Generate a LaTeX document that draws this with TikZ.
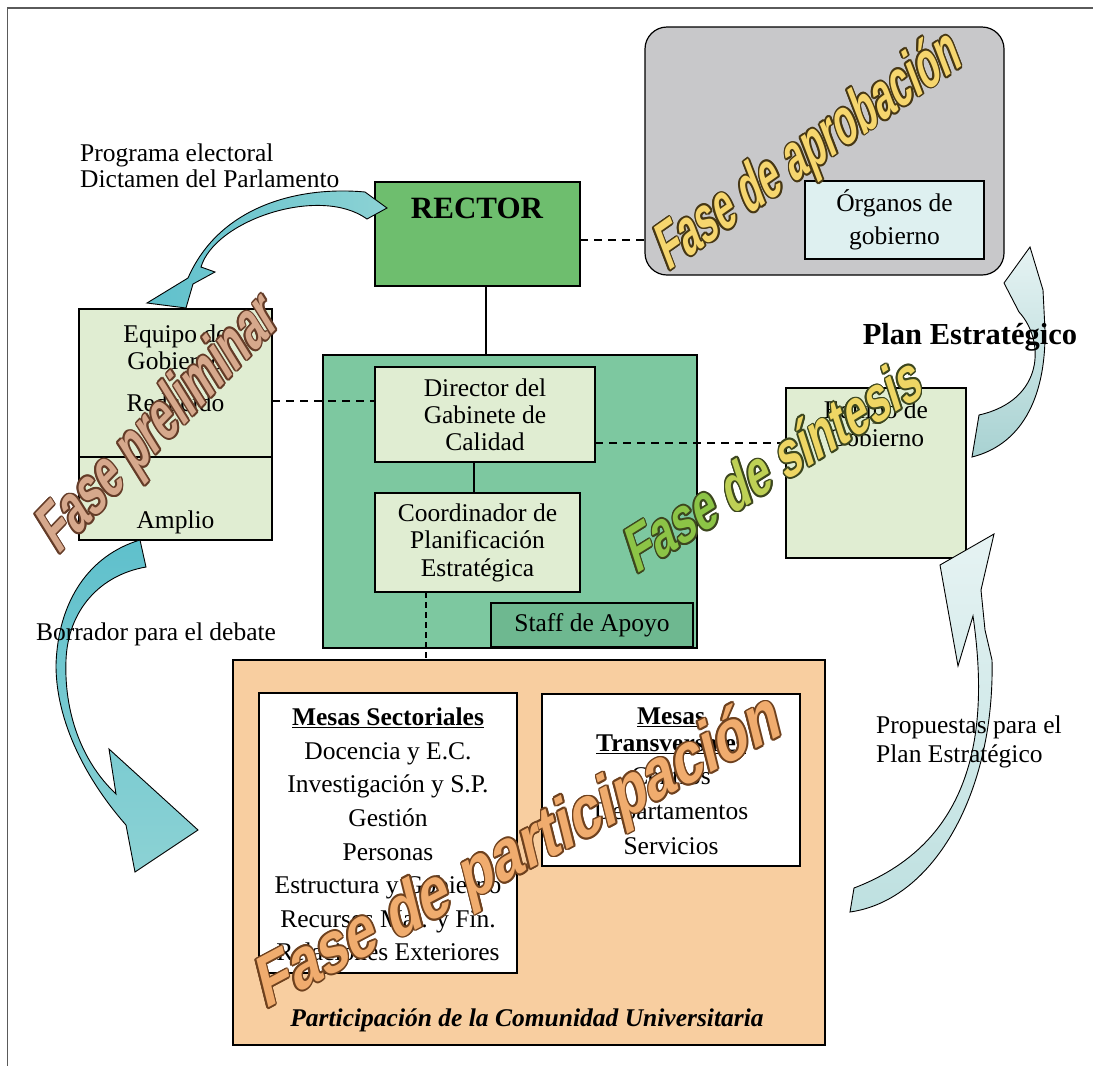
\documentclass[tikz,border=0pt]{standalone}
\usepackage{fontspec}
\setmainfont{Liberation Serif}
\newfontfamily\wafont{Liberation Sans}
\definecolor{cRector}{RGB}{110,190,110}
\definecolor{cGab}{RGB}{125,200,160}
\definecolor{cLight}{RGB}{224,237,210}
\definecolor{cStaff}{RGB}{110,184,144}
\definecolor{cGray}{RGB}{200,200,202}
\definecolor{cOrg}{RGB}{222,240,240}
\definecolor{cOrange}{RGB}{248,206,160}
\definecolor{cFrame}{RGB}{90,90,90}
\definecolor{waPreF}{RGB}{214,168,140}
\definecolor{waPreL}{RGB}{100,60,40}
\definecolor{waAprF}{RGB}{246,214,110}
\definecolor{waAprL}{RGB}{70,55,20}
\definecolor{waG1}{RGB}{140,196,70}
\definecolor{waG2}{RGB}{190,208,85}
\definecolor{waG3}{RGB}{238,214,100}
\definecolor{waSinL}{RGB}{60,70,30}
\definecolor{waParF}{RGB}{240,172,110}
\definecolor{waParL}{RGB}{110,65,30}
\definecolor{arA}{RGB}{95,192,204}
\definecolor{arB}{RGB}{140,210,212}
\definecolor{arC}{RGB}{230,243,243}
\definecolor{arD}{RGB}{190,224,224}
\definecolor{arE}{RGB}{168,210,210}
\newcommand\fs[1]{\fontsize{25.5}{#1}\selectfont}
\newif\ifwaout
\newcommand\wc[2]{\ifwaout#2\else\textcolor{#1}{#2}\fi}
\newcommand\wordart[9]{%
  \foreach \a [count=\k] in {0,30,...,330}{%
    \begin{scope}[shift={({#2+1.7*cos(\a)},{#3+1.7*sin(\a)})}]
      \node[wa, text=#8, rotate=#4, xslant=0.25, xscale=#5] (#1o\k) at (0,0) {\waouttrue\fontsize{#6}{#6}\selectfont #9};
    \end{scope}}%
  \begin{scope}[shift={(#2,#3)}]
    \node[wa, text=#7, rotate=#4, xslant=0.25, xscale=#5] (#1) at (0,0) {\fontsize{#6}{#6}\selectfont #9};
  \end{scope}}
\begin{document}
\begin{tikzpicture}[x=1pt,y=-1pt,
  box/.style={draw=black, line width=1.2pt, inner sep=0pt, outer sep=0pt},
  txt/.style={font=\fs{27}, align=center, inner sep=0pt},
  dline/.style={line width=1.1pt, dash pattern=on 8pt off 6pt},
  vdline/.style={line width=1.1pt, dash pattern=on 6pt off 4pt},
  sline/.style={line width=1.1pt},
  barrow/.style={draw=black, line width=0.9pt},
  wa/.style={inner sep=0pt, anchor=base west, font=\wafont\bfseries},
  frame/.style={draw=cFrame, line width=1.3pt}]
\useasboundingbox (0,0) rectangle (1093,1066);
\fill[white] (0,0) rectangle (1093,1066);
\draw[frame] (7.5,1066) -- (7.5,8) -- (1093,8);

% approval phase
\node[box, fill=cGray, rounded corners=22pt, minimum width=359pt, minimum height=248pt] (gray) at (824.5,151) {};
\node[box, fill=cOrg, minimum width=179pt, minimum height=78pt, align=center, font=\fs{33}] (organos) at (894.5,220) {Órganos de\\gobierno};

% rector
\node[box, fill=cRector, minimum width=205pt, minimum height=104pt] (rector) at (477.5,234) {};
\node[inner sep=0pt, font=\fontsize{31}{31}\selectfont\bfseries] (rectorlbl) at (477,208) {RECTOR};

% gabinete
\node[box, fill=cGab, minimum width=374pt, minimum height=293pt] (gab) at (510,501.5) {};
\node[box, fill=cLight, minimum width=220pt, minimum height=95pt, align=center, font=\fs{27}] (director) at (485,414.5) {Director del\\Gabinete de\\Calidad};
\node[box, fill=cLight, minimum width=205pt, minimum height=99pt, align=center, font=\fs{27.5}] (coord) at (477.5,542.5) {Coordinador de\\Planificación\\Estratégica};
\node[box, fill=cStaff, minimum width=202pt, minimum height=44pt, font=\fs{27}] (staff) at (592,625) {Staff de Apoyo};

% equipo de gobierno (left)
\node[box, fill=cLight, minimum width=193pt, minimum height=148pt] (eqtop) at (175.5,383) {};
\node[box, fill=cLight, minimum width=193pt, minimum height=83pt] (eqbot) at (175.5,498.5) {};
\node[txt] (eqtxt) at (175.5,347) {Equipo de\\Gobierno};
\node[txt] (reducido) at (175.5,403) {Reducido};
\node[txt] (amplio) at (175.5,522) {Amplio};

% equipo de gobierno (right)
\node[box, fill=cLight, minimum width=180pt, minimum height=170pt] (eqright) at (876,473) {};
\node[txt, font=\fs{28}] (eqrlbl) at (876,424) {Equipo de\\Gobierno};

% participation
\node[box, fill=cOrange, minimum width=592pt, minimum height=385pt] (orange) at (529,852.5) {};
\node[box, fill=white, minimum width=258pt, minimum height=280pt] (msect) at (388,833) {};
\node[txt, font=\fs{33.6}] (mslbl) at (388,834.5) {\textbf{\underline{Mesas Sectoriales}}\\Docencia y E.C.\\Investigación y S.P.\\Gestión\\Personas\\Estructura y Gobierno\\Recursos Mat. y Fin.\\Relaciones Exteriores};
\node[box, fill=white, minimum width=258pt, minimum height=172pt] (mtrans) at (671,780) {};
\node[txt, font=\fs{27}\bfseries] (mthead) at (671,730.5) {\underline{Mesas}\\\underline{Transversales}};
\node[txt, font=\fs{35}] (mtlist) at (671,811) {Centros\\Departamentos\\Servicios};
\node[inner sep=0pt, font=\fs{27}\bfseries\itshape] (partlbl) at (527,1020) {Participación de la Comunidad Universitaria};

% connectors
\draw[sline] ([xshift=8.5pt]rector.south) -- ([xshift=8.5pt]rector.south |- gab.north);
\draw[dline] ([yshift=-6pt]rector.east) -- ([yshift=-6pt]rector.east -| gray.west);
\draw[dline] ([yshift=13.5pt]director.west -| eqtop.east) -- ([yshift=13.5pt]director.west);
\draw[dline] ([yshift=-28.5pt]director.east) -- ([yshift=-28.5pt]director.east -| eqright.west);
\draw[sline] ([xshift=-11pt]director.south) -- ([xshift=-11pt]director.south |- coord.north);
\draw[vdline] ([xshift=-51.5pt]coord.south) -- ([xshift=-51.5pt]coord.south |- orange.north);

% block arrows
\path[barrow, left color=arA, right color=arB]
  (365,192) .. controls (300,186) and (220,205) .. (188,278) -- (147,303) -- (186,308) -- (193,284) -- (215,272) -- (201,267)
  .. controls (215,220) and (320,185) .. (367,219) -- (387,208) -- cycle;
\path[barrow, top color=arA, bottom color=arB]
  (140,540) .. controls (90,555) and (58,600) .. (56,665) .. controls (56,730) and (95,790) .. (126,825)
  -- (135,872) -- (198,830) -- (109,749) -- (116,794)
  .. controls (80,760) and (64,710) .. (66,660) .. controls (68,610) and (100,575) .. (146,567) -- cycle;
\path[barrow, top color=arC, bottom color=arD]
  (850,912) .. controls (935,900) and (995,790) .. (992,660) -- (985,630) -- (981,590) -- (994,534) -- (940,565) -- (958,666) -- (973,616)
  .. controls (988,720) and (980,840) .. (854,888) -- cycle;
\path[barrow, top color=arC, bottom color=arE]
  (972,457) .. controls (1020,445) and (1046,400) .. (1045,330) -- (1043,290) -- (1030,247) -- (1004,283) -- (1019,312)
  .. controls (1045,340) and (1045,400) .. (979,415) -- cycle;

% free labels
\node[txt, font=\fs{26}, align=left, anchor=west] (prog) at (80,166) {Programa electoral\\Dictamen del Parlamento};
\node[txt, font=\fs{27}] (borrador) at (156,634) {Borrador para el debate};
\node[txt, font=\fs{29}, align=left, anchor=west] (propuestas) at (876,742) {Propuestas para el\\Plan Estratégico};
\node[inner sep=0pt, font=\fontsize{30.5}{31}\selectfont\bfseries] (planlbl) at (970,337) {Plan Estratégico};

% word art
\wordart{wpre}{58}{556}{46}{0.66}{66}{waPreF}{waPreL}{Fase preliminar}
\wordart{wapr}{668}{272}{35}{0.6}{64}{waAprF}{waAprL}{Fase de aprobación}
\wordart{wsin}{636}{575}{32}{0.7}{63}{waG3}{waSinL}{\wc{waG1}{Fase} \wc{waG2}{de} \wc{waG3}{síntesis}}
\wordart{wpar}{265}{1010}{28}{0.82}{70}{waParF}{waParL}{Fase de participación}
\end{tikzpicture}
\end{document}
